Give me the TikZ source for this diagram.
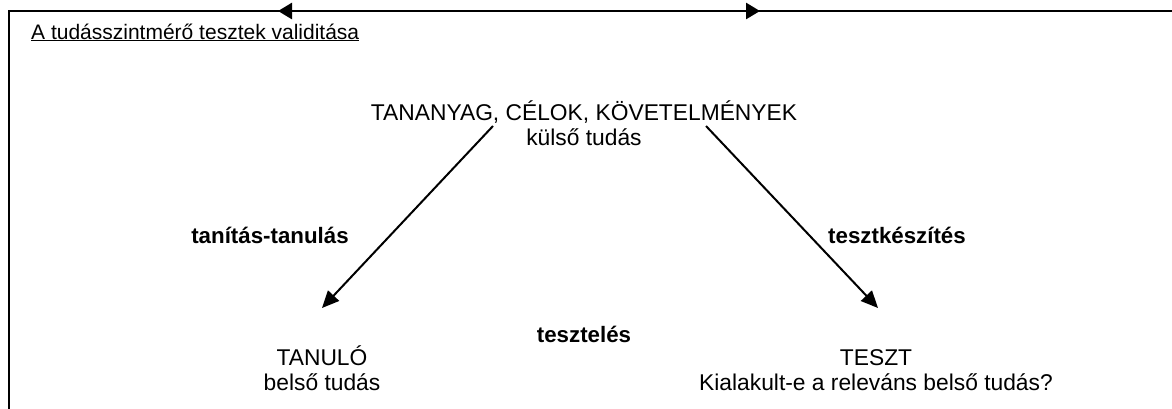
\documentclass[tikz,border=0pt]{standalone}
\usepackage{fontspec}
\setmainfont{Liberation Sans}
\usetikzlibrary{arrows.meta}
\begin{document}
\begin{tikzpicture}[x=1pt,y=-1pt,
  txt/.style={font=\fontsize{22.8}{24.5}\selectfont, inner sep=0pt, align=center},
  ttl/.style={font=\fontsize{21}{24.5}\selectfont, inner sep=0pt},
  lbl/.style={font=\fontsize{22.3}{24.5}\selectfont\bfseries, inner sep=0pt},
  conn/.style={line width=2pt, -{Triangle[length=17pt,width=15pt]}},
  frameline/.style={line width=1.8pt},
  span/.style={line width=2.6pt, {Triangle[length=14pt,width=16pt]}-{Triangle[length=14pt,width=16pt]}}]
\useasboundingbox (0,0) rectangle (1172,408);
% outer frame (runs past the page on the right and bottom)
\draw[frameline] (9,430) -- (9,11) -- (1190,11);
% double arrow on the top edge
\coordinate (spanL) at (278,11);
\coordinate (spanR) at (760,11);
\draw[span] (spanL) -- (spanR);
% title
\node[ttl, anchor=base west] (title) at (31,39) {\underline{A tudásszintmérő tesztek validitása}};
% three corners (base anchor = baseline of the last line)
\node[txt, anchor=base] (src) at (584,145) {TANANYAG, CÉLOK, KÖVETELMÉNYEK\\külső tudás};
\node[txt, anchor=base] (learner) at (322,390) {TANULÓ\\belső tudás};
\node[txt, anchor=base] (test) at (876,390) {TESZT\\Kialakult-e a releváns belső tudás?};
% edge labels
\node[lbl, anchor=base] (teach) at (270,243) {tanítás-tanulás};
\node[lbl, anchor=base] (make) at (897,243) {tesztkészítés};
\node[lbl, anchor=base] (testing) at (584,342) {tesztelés};
% connectors
\coordinate (srcL) at (493,126);
\coordinate (srcR) at (706,126);
\coordinate (learnerTop) at (322,308);
\coordinate (testTop) at (878,308);
\draw[conn] (srcL) -- (learnerTop);
\draw[conn] (srcR) -- (testTop);
\end{tikzpicture}
\end{document}
